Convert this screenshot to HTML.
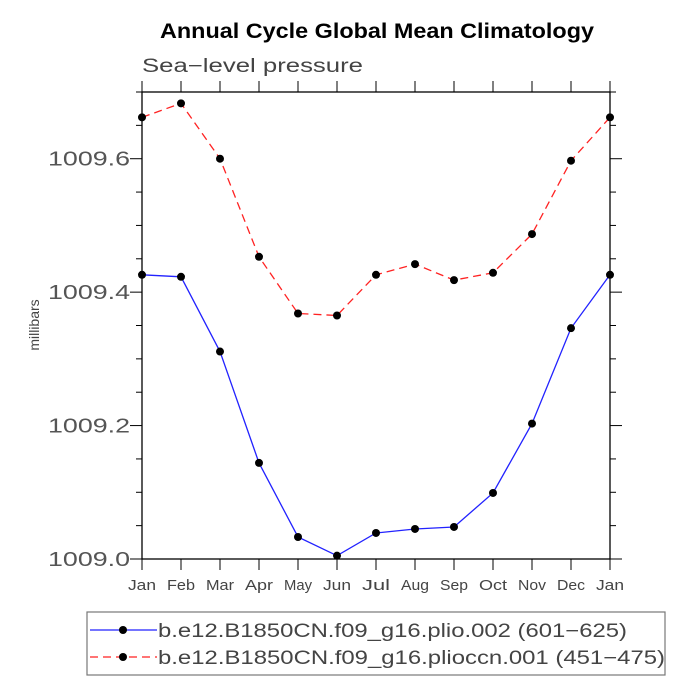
<!DOCTYPE html>
<html><head><meta charset="utf-8"><style>
body{margin:0;background:#fff;}
svg text{font-family:"Liberation Sans",sans-serif;}
</style></head><body>
<svg id="c" width="694" height="694" xmlns="http://www.w3.org/2000/svg">
<text x="160" y="38" textLength="434" lengthAdjust="spacingAndGlyphs" font-size="21" font-weight="bold" fill="#000">Annual Cycle Global Mean Climatology</text>
<text x="142" y="72" textLength="221" lengthAdjust="spacingAndGlyphs" font-size="19" fill="#444">Sea−level pressure</text>
<text x="0" y="0" transform="translate(39,325) rotate(-90)" text-anchor="middle" font-size="14" fill="#444">millibars</text>
<g id="axes"></g>
<g id="series"></g>
<rect x="87" y="612" width="578" height="63" fill="none" stroke="#777" stroke-width="1.2"/>
<g>
<line x1="90" y1="630" x2="157" y2="630" stroke="#2222ff" stroke-width="1.3"/>
<circle cx="123" cy="630" r="4" fill="#000"/>
<text x="158" y="637" textLength="469" lengthAdjust="spacingAndGlyphs" font-size="19" fill="#444">b.e12.B1850CN.f09_g16.plio.002 (601−625)</text>
</g>
<g>
<line x1="90" y1="657" x2="157" y2="657" stroke="#ff2222" stroke-width="1.3" stroke-dasharray="8,5"/>
<circle cx="123" cy="657" r="4" fill="#000"/>
<text x="158" y="664" textLength="507" lengthAdjust="spacingAndGlyphs" font-size="19" fill="#444">b.e12.B1850CN.f09_g16.plioccn.001 (451−475)</text>
</g>
</svg>
<script>
const months=["Jan","Feb","Mar","Apr","May","Jun","Jul","Aug","Sep","Oct","Nov","Dec","Jan"];
const plio=[1009.426,1009.423,1009.311,1009.144,1009.033,1009.005,1009.039,1009.045,1009.048,1009.099,1009.203,1009.346,1009.426];
const pliocc=[1009.662,1009.683,1009.600,1009.453,1009.368,1009.365,1009.426,1009.442,1009.418,1009.429,1009.487,1009.597,1009.662];
const yTicks=["1009.0","1009.2","1009.4","1009.6"];
const L=142,R=610,T=92,B=559,ymin=1009.0,ymax=1009.7;
const ns="http://www.w3.org/2000/svg";
const xs=i=>L+(R-L)*i/(months.length-1);
const ys=v=>B-(v-ymin)/(ymax-ymin)*(B-T);
function mk(t,a,p){const e=document.createElementNS(ns,t);for(const k in a)e.setAttribute(k,a[k]);p.appendChild(e);return e;}
const ax=document.getElementById('axes');
const fr=mk('rect',{x:L,y:T,width:R-L,height:B-T,fill:'none',stroke:'#000','stroke-width':1.3},ax);


for(let v=0;v<=0.7001;v+=0.05){
 const y=ys(ymin+v);const major=Math.abs(v/0.2-Math.round(v/0.2))<1e-6;const len=major?12:6;
 mk('line',{x1:L-len,y1:y,x2:L,y2:y,stroke:'#000','stroke-width':1},ax);
 mk('line',{x1:R,y1:y,x2:R+len,y2:y,stroke:'#000','stroke-width':1},ax);
}
yTicks.forEach(t=>{const y=ys(parseFloat(t));
 const e=mk('text',{x:L-12-82,y:y+7,textLength:82,lengthAdjust:'spacingAndGlyphs','font-size':20,fill:'#555'},ax);e.textContent=t;
 
 });
months.forEach((m,i)=>{const x=xs(i);
 mk('line',{x1:x,y1:B,x2:x,y2:B+11,stroke:'#000','stroke-width':1},ax);
 mk('line',{x1:x,y1:T,x2:x,y2:T-11,stroke:'#000','stroke-width':1},ax);
 const e=mk('text',{x:x-14,y:B+31,textLength:28,lengthAdjust:'spacingAndGlyphs','font-size':15,fill:'#444'},ax);e.textContent=m;
 
 });
const sg=document.getElementById('series');
function series(vals,col,dash,name){
 const p=mk('polyline',{points:vals.map((v,i)=>xs(i)+','+ys(v)).join(' '),fill:'none',stroke:col,'stroke-width':1.3,'stroke-dasharray':dash},sg);
 
 
 vals.forEach((v,i)=>{const c=mk('circle',{cx:xs(i),cy:ys(v),r:4,fill:'#000'},sg);
  
  });
}
series(plio,'#2222ff','none','plio');
series(pliocc,'#ff2222','8,5','pliocc');
</script>
</body></html>
